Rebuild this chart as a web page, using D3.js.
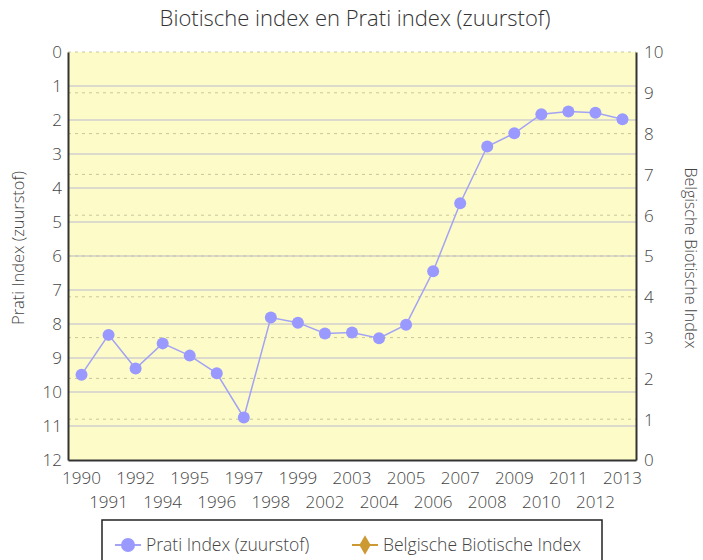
<!DOCTYPE html>
<html>
<head>
<meta charset="utf-8">
<script src="https://cdn.jsdelivr.net/npm/d3@7"></script>
<style>
  body { margin: 0; background: #fff; }
  svg { display: block; font-family: "Open Sans", sans-serif; font-weight: 300; }
</style>
</head>
<body>
<div id="chart"></div>
<script>
'use strict';

// Data.
const years = ['1990', '1991', '1992', '1994', '1995', '1996', '1997', '1998', '1999',
    '2002', '2003', '2004', '2005', '2006', '2007', '2008', '2009', '2010', '2011', '2012', '2013'];
const pratiValues = [9.49, 8.32, 9.31, 8.57, 8.93, 9.45, 10.75, 7.81, 7.96,
    8.28, 8.25, 8.42, 8.02, 6.45, 4.45, 2.78, 2.39, 1.83, 1.75, 1.79, 1.98];
// The Belgian biotic index has no values drawn in the chart.
const bbiValues = years.map(() => null);
const leftTicks = d3.range(0, 13);
const rightTicks = d3.range(0, 11);
const seriesNames = ['Prati Index (zuurstof)', 'Belgische Biotische Index'];

const W = 703, H = 560;
const margin = { top: 52, right: 67, bottom: 100, left: 68 };
const width = W - margin.left - margin.right;
const height = H - margin.top - margin.bottom;

const svg = d3.select('#chart').append('svg')
    .attr('width', W)
    .attr('height', H);

const g = svg.append('g')
    .attr('transform', 'translate(' + margin.left + ',' + margin.top + ')');

const x = d3.scaleBand().domain(years).range([0, width]);
const yLeft = d3.scaleLinear().domain([0, 12]).range([0, height]);
const yRight = d3.scaleLinear().domain([0, 10]).range([height, 0]);
const xc = d => x(d) + x.bandwidth() / 2;

// Plot background
g.append('rect')
    .attr('width', width)
    .attr('height', height)
    .attr('fill', '#fdfcc8');

// Solid grid for the left axis
g.selectAll('.grid-left')
    .data(leftTicks.filter(d => d > 0 && d < 12))
    .enter().append('line')
    .attr('x1', 0).attr('x2', width)
    .attr('y1', d => yLeft(d)).attr('y2', d => yLeft(d))
    .attr('stroke', '#cfcfcf')
    .attr('stroke-width', 1.5);

// Dashed grid for the right axis
g.selectAll('.grid-right')
    .data(rightTicks.filter(d => d > 0))
    .enter().append('line')
    .attr('x1', 0).attr('x2', width)
    .attr('y1', d => yRight(d)).attr('y2', d => yRight(d))
    .attr('stroke', '#c9c69a')
    .attr('stroke-width', 1)
    .attr('stroke-dasharray', '3,4');

// Axes
const tickColor = '#444';
const leftAxis = g.append('g')
    .call(d3.axisLeft(yLeft).tickValues(leftTicks).tickSize(0).tickPadding(6));
const rightAxis = g.append('g')
    .attr('transform', 'translate(' + width + ',0)')
    .call(d3.axisRight(yRight).tickValues(rightTicks).tickSize(0).tickPadding(8));
const bottomAxis = g.append('g')
    .attr('transform', 'translate(0,' + height + ')')
    .call(d3.axisBottom(x).tickSize(0).tickPadding(12));

[leftAxis, rightAxis, bottomAxis].forEach(a => {
    a.attr('font-family', '"Open Sans", sans-serif').attr('font-size', 17);
    a.select('.domain').attr('stroke', '#333').attr('stroke-width', 2);
    a.selectAll('text').attr('fill', tickColor);
});
bottomAxis.selectAll('text')
    .attr('dy', (d, i) => i % 2 ? '2.1em' : '0.71em');
leftAxis.selectAll('text').attr('dy', '0.35em');
rightAxis.selectAll('text').attr('dy', '0.35em');

// Prati line and points
const line = d3.line()
    .defined(d => d[1] != null)
    .x(d => xc(d[0]))
    .y(d => yLeft(d[1]));
const pratiData = years.map((y, i) => [y, pratiValues[i]]);

g.append('path')
    .datum(pratiData)
    .attr('d', line)
    .attr('fill', 'none')
    .attr('stroke', '#a3a3f5')
    .attr('stroke-width', 1.5);

g.selectAll('.pt')
    .data(pratiData)
    .enter().append('circle')
    .attr('cx', d => xc(d[0]))
    .attr('cy', d => yLeft(d[1]))
    .attr('r', 6)
    .attr('fill', '#9999ff');

// BBI series (no values)
g.selectAll('.bbi')
    .data(years.map((y, i) => [y, bbiValues[i]]).filter(d => d[1] != null))
    .enter().append('path')
    .attr('transform', d => 'translate(' + xc(d[0]) + ',' + yRight(d[1]) + ')')
    .attr('d', d3.symbol(d3.symbolDiamond, 80))
    .attr('fill', '#cc9933');

// Title
svg.append('text')
    .attr('x', 355)
    .attr('y', 26)
    .attr('text-anchor', 'middle')
    .attr('font-size', 22)
    .attr('fill', '#333')
    .text('Biotische index en Prati index (zuurstof)');

// Axis titles
svg.append('text')
    .attr('transform', 'translate(24,' + (margin.top + height / 2 - 8) + ') rotate(-90)')
    .attr('text-anchor', 'middle')
    .attr('font-size', 16.5)
    .attr('fill', '#444')
    .text(seriesNames[0]);

svg.append('text')
    .attr('transform', 'translate(685,' + (margin.top + height / 2 + 2) + ') rotate(90)')
    .attr('text-anchor', 'middle')
    .attr('font-size', 16)
    .attr('fill', '#444')
    .text(seriesNames[1]);

// Legend
const legend = svg.append('g').attr('transform', 'translate(102,520)');
legend.append('rect')
    .attr('width', 500)
    .attr('height', 60)
    .attr('fill', '#fff')
    .attr('stroke', '#222')
    .attr('stroke-width', 1.5);

const leg1 = legend.append('g').attr('transform', 'translate(13,25)');
leg1.append('line').attr('x1', 0).attr('x2', 26)
    .attr('stroke', '#a3a3f5').attr('stroke-width', 2);
leg1.append('circle').attr('cx', 13).attr('r', 7).attr('fill', '#9999ff');
leg1.append('text').attr('x', 31).attr('dy', '0.35em')
    .attr('font-size', 17.5).attr('fill', '#444').text(seriesNames[0]);

const leg2 = legend.append('g').attr('transform', 'translate(250,25)');
leg2.append('line').attr('x1', 0).attr('x2', 26)
    .attr('stroke', '#cc9933').attr('stroke-width', 2);
leg2.append('path').attr('transform', 'translate(13,0)')
    .attr('d', d3.symbol(d3.symbolDiamond, 110)).attr('fill', '#cc9933');
leg2.append('text').attr('x', 31).attr('dy', '0.35em')
    .attr('font-size', 17.5).attr('fill', '#444').text(seriesNames[1]);
</script>
</body>
</html>
